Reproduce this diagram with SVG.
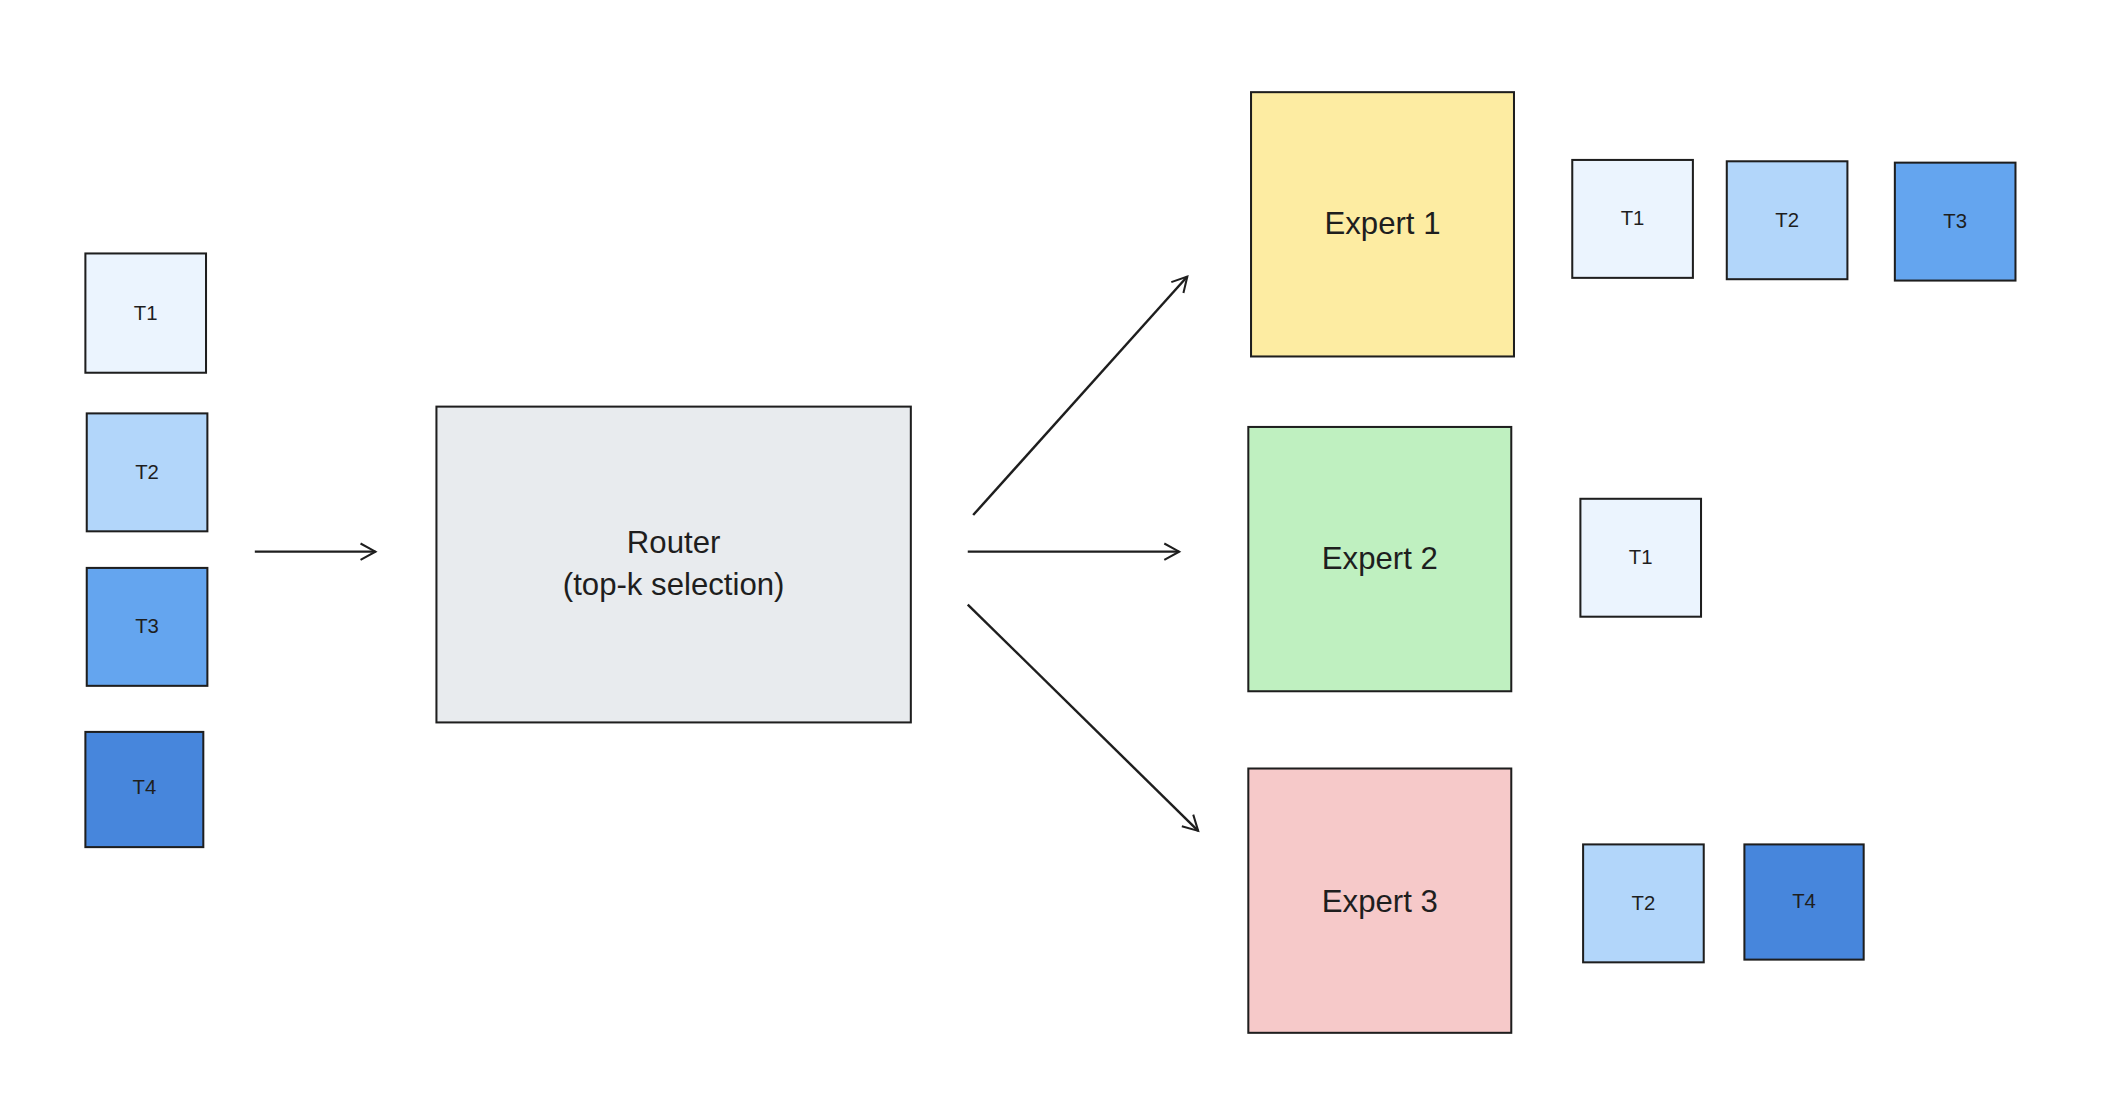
<svg xmlns="http://www.w3.org/2000/svg" width="2124" height="1120" viewBox="0 0 2124 1120">
<style>
.b{stroke:#1e1e1e;stroke-width:1.5}
.t{font-family:"Liberation Sans",sans-serif;fill:#1e1e1e;text-anchor:middle;dominant-baseline:central}
.s{font-size:15px}
.l{font-size:23px}
.c{fill:none;stroke:#1e1e1e;stroke-width:1.8;marker-end:url(#a)}
</style>
<defs><marker id="a" markerWidth="14" markerHeight="14" refX="12" refY="7" orient="auto" markerUnits="userSpaceOnUse"><path d="M1,1 L12,7 L1,13" fill="none" stroke="#1e1e1e" stroke-width="1.5"/></marker></defs>
<rect width="2124" height="1120" fill="#fff"/>
<g transform="scale(1.3554)">
<g id="in-t1"><rect class="b" x="63" y="187" width="89" height="88" fill="#ebf4fe"/><text class="t s" x="107.5" y="231">T1</text></g>
<g id="in-t2"><rect class="b" x="64" y="305" width="89" height="87" fill="#b2d6fa"/><text class="t s" x="108.5" y="348">T2</text></g>
<g id="in-t3"><rect class="b" x="64" y="419" width="89" height="87" fill="#64a5ef"/><text class="t s" x="108.5" y="462">T3</text></g>
<g id="in-t4"><rect class="b" x="63" y="540" width="87" height="85" fill="#4786dc"/><text class="t s" x="106.5" y="581">T4</text></g>
<g id="router"><rect class="b" x="322" y="300" width="350" height="233" fill="#e8ebee"/><text class="t l" x="497" y="400">Router</text><text class="t l" x="497" y="431">(top-k selection)</text></g>
<g id="expert1"><rect class="b" x="923" y="68" width="194" height="195" fill="#fdeca2"/><text class="t l" x="1020" y="165">Expert 1</text></g>
<g id="expert2"><rect class="b" x="921" y="315" width="194" height="195" fill="#bff0c0"/><text class="t l" x="1018" y="412">Expert 2</text></g>
<g id="expert3"><rect class="b" x="921" y="567" width="194" height="195" fill="#f6c9c9"/><text class="t l" x="1018" y="665">Expert 3</text></g>
<g id="e1-t1"><rect class="b" x="1160" y="118" width="89" height="87" fill="#ebf4fe"/><text class="t s" x="1204.5" y="161">T1</text></g>
<g id="e1-t2"><rect class="b" x="1274" y="119" width="89" height="87" fill="#b2d6fa"/><text class="t s" x="1318.5" y="162">T2</text></g>
<g id="e1-t3"><rect class="b" x="1398" y="120" width="89" height="87" fill="#64a5ef"/><text class="t s" x="1442.5" y="163">T3</text></g>
<g id="e2-t1"><rect class="b" x="1166" y="368" width="89" height="87" fill="#ebf4fe"/><text class="t s" x="1210.5" y="411">T1</text></g>
<g id="e3-t2"><rect class="b" x="1168" y="623" width="89" height="87" fill="#b2d6fa"/><text class="t s" x="1212.5" y="666">T2</text></g>
<g id="e3-t4"><rect class="b" x="1287" y="623" width="88" height="85" fill="#4786dc"/><text class="t s" x="1331" y="665">T4</text></g>
<g id="connectors">
<path class="c" d="M188,407 L277,407"/>
<path class="c" d="M718,380 L876,204"/>
<path class="c" d="M714,407 L870,407"/>
<path class="c" d="M714,446 L884,613"/>
</g>
</g>
</svg>
